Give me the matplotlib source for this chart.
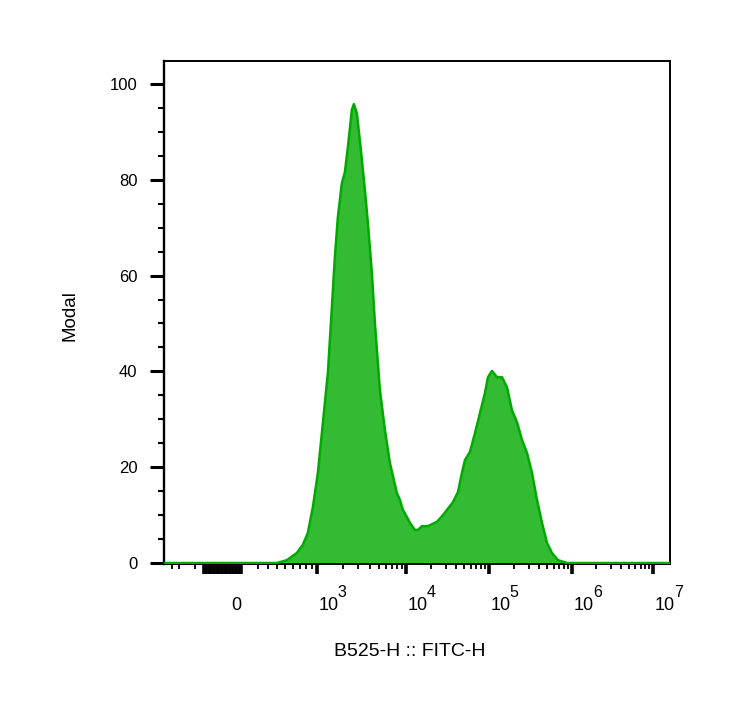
"""FITC-H histogram (B525-H) on a biexponential axis, FlowJo style."""
import matplotlib
matplotlib.use("Agg")
import matplotlib.pyplot as plt
import matplotlib.transforms as mtransforms
from matplotlib.ticker import FixedLocator
import numpy as np

plt.rcParams["font.family"] = ["Liberation Sans", "DejaVu Sans"]

# B525-H :: FITC-H intensity vs modal %
fitc = [-830, 0, 399, 520, 657, 749, 833, 923, 1028, 1181, 1353, 1506, 1630,
        1764, 1958, 2117, 2288, 2536, 2670, 2883, 3194, 3537, 3818, 4227, 4562,
        5180, 5878, 6670, 7964, 8590, 9269, 10280, 11180, 12840, 13950, 15590,
        18420, 23640, 27920, 36840, 42330, 47290, 51390, 59040, 67840, 77930,
        89510, 97270, 108700, 124900, 143400, 164800, 189300, 217500, 249800,
        287000, 329800, 378700, 435100, 499800, 574100, 678300, 870800, 1.62e7]
modal = [0, 0, 0, 0.6, 2.1, 3.8, 6.3, 11.7, 18.8, 29.2, 39.7, 53.4, 63.9,
         72.2, 79.3, 81.6, 86.8, 94.6, 95.8, 93.9, 86.2, 77.9, 71.0, 60.5, 50.1,
         36.1, 27.8, 20.9, 14.6, 13.2, 11.1, 9.6, 8.4, 6.9, 6.9, 7.7,
         7.7, 8.6, 10.0, 12.7, 14.8, 18.8, 21.5, 23.2, 27.1, 31.3,
         35.5, 38.8, 40.1, 38.8, 38.8, 36.7, 31.9, 29.4, 25.7,
         23.0, 18.8, 13.2, 8.4, 4.2, 2.1, 0.6, 0, 0]

decades = [3, 4, 5, 6, 7]
y_major = [0, 20, 40, 60, 80, 100]

# biexponential-ish display scale: asinh near zero, one decade per ~83 px above
_C = 500.0
_XK = np.array([-1e4, 0, 1e3, 1e4, 1e5, 1e6, 1e7, 1e8, 1e9])
_PK = np.array([-207, 0, 81, 170, 253, 336, 417, 498, 579], dtype=float)
_VK = np.arcsinh(_XK / _C) / np.log(10)


def biex_fwd(x):
    v = np.arcsinh(np.asarray(x, dtype=float) / _C) / np.log(10)
    return np.interp(v, _VK, _PK)


def biex_inv(u):
    v = np.interp(np.asarray(u, dtype=float), _PK, _VK)
    return _C * np.sinh(v * np.log(10))


fig = plt.figure(figsize=(7.31, 7.19), dpi=100)
ax = fig.add_axes([0.2243, 0.2156, 0.6923, 0.6996])
ax.set_xscale("function", functions=(biex_fwd, biex_inv))

ax.fill_between(fitc, modal, 0, color="#33bb33", linewidth=0, zorder=2)
ax.plot(fitc, modal, color="#00aa00", linewidth=1.8, zorder=3)

ax.set_xlim(-830, 1.62e7)
ax.set_ylim(-0.2, 104.8)

# x ticks: dense block around zero, decade ticks, log minors
near_zero = list(range(-300, 51, 25))
x_major = near_zero + [10.0 ** d for d in decades]
x_minor = [-700, -600, -400] + [m * 100 for m in range(2, 10)]
for d in decades[:-1]:
    x_minor += [m * 10.0 ** d for m in range(2, 10)]
ax.xaxis.set_major_locator(FixedLocator(x_major))
ax.xaxis.set_minor_locator(FixedLocator(x_minor))
ax.tick_params(axis="x", which="major", direction="out", length=7.5, width=2.6,
               labelbottom=False)
ax.tick_params(axis="x", which="minor", direction="out", length=3.5, width=1.3)

ax.set_yticks(y_major)
ax.set_yticks(np.arange(0, 105, 5), minor=True)
ax.set_yticklabels([str(v) for v in y_major])
ax.tick_params(axis="y", which="major", direction="out", length=10, width=2.2,
               pad=9, labelsize=12, labelcolor="black")
ax.tick_params(axis="y", which="minor", direction="out", length=4.5, width=1.5)

for side in ("top", "right", "bottom"):
    ax.spines[side].set_linewidth(1.4)
ax.spines["left"].set_linewidth(1.7)

# tick labels drawn by hand so "10^n" sits right of its tick like FlowJo
trans = mtransforms.blended_transform_factory(ax.transData, fig.transFigure)
ax.text(0, 0.1516, "0", transform=trans, ha="center", va="baseline",
        fontsize=13, color="black")
for d in decades:
    ax.annotate("10", xy=(10.0 ** d, 0.1516), xycoords=trans, xytext=(1, 0),
                textcoords="offset points", ha="left", va="baseline",
                fontsize=13, color="black")
    ax.annotate(str(d), xy=(10.0 ** d, 0.1516), xycoords=trans,
                xytext=(15, 9), textcoords="offset points", ha="left",
                va="baseline", fontsize=11.5, color="black")

fig.text(0.0958, 0.5605, "Modal", rotation=90, ha="center", va="center",
         fontsize=13.5, color="black")
fig.text(0.561, 0.094, "B525-H :: FITC-H", ha="center", va="center",
         fontsize=14, color="black")

fig.savefig("out.png", dpi=100)
